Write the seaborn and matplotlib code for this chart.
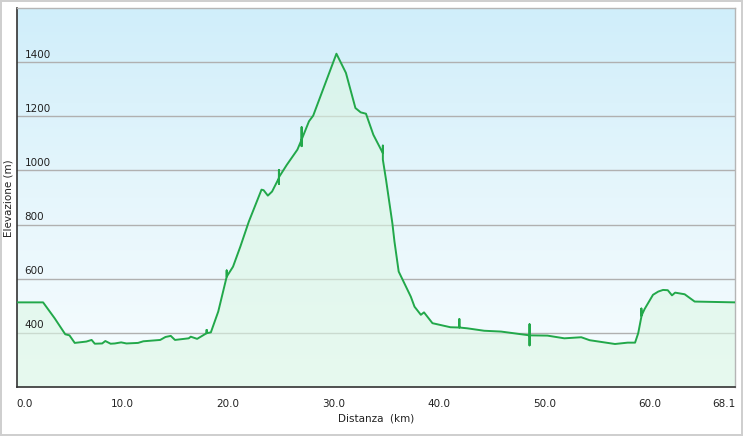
import numpy as np
import pandas as pd
import matplotlib
matplotlib.use("Agg")
import matplotlib.pyplot as plt
from matplotlib.colors import LinearSegmentedColormap
import seaborn as sns

# Profilo altimetrico: distanza (km) ed elevazione (m)
distanza = [0, 2.5, 3.6, 4.6, 5.0, 5.5, 6.6, 7.1, 7.4, 8.1,
            8.4, 8.9, 9.3, 9.9, 10.4, 11.5, 12.0, 13.6, 14.1, 14.6,
            15.0, 16.3, 16.5, 17.1, 18.0, 18.0, 18.0, 18.4, 19.1, 19.9,
            19.9, 19.9, 20.5, 21.2, 22.0, 23.2, 23.4, 23.8, 24.2, 24.85,
            24.85, 24.85, 24.85, 25.6, 26.6, 27.0, 27.0, 27.0, 27.0, 27.7,
            28.1, 30.3, 31.2, 32.1, 32.6, 33.1, 33.8, 34.7, 34.7, 34.7,
            35.0, 35.6, 35.8, 36.2, 37.35, 37.7, 38.3, 38.6, 39.4, 41.1,
            41.95, 41.95, 41.95, 42.7, 44.3, 45.9, 48.6, 48.6, 48.6, 48.6,
            50.3, 51.9, 53.5, 54.3, 56.7, 57.9, 58.6, 58.9, 59.2, 59.2,
            59.2, 59.5, 60.3, 60.8, 61.25, 61.7, 62.1, 62.4, 63.3, 64.25,
            68.1]
elevazione = [512, 512, 453, 394, 390, 362, 367, 373, 359, 360,
              369, 359, 360, 364, 360, 362, 368, 373, 384, 388,
              373, 379, 385, 377, 398, 410, 398, 401, 478, 607,
              630, 607, 644, 719, 811, 929, 927, 907, 922, 972,
              1002, 950, 975, 1021, 1077, 1114, 1160, 1090, 1114, 1182,
              1203, 1432, 1361, 1231, 1215, 1210, 1132, 1064, 1092, 1040,
              966, 805, 737, 626, 533, 496, 466, 475, 435, 420,
              419, 450, 419, 416, 407, 404, 390, 431, 353, 390,
              389, 379, 383, 372, 358, 363, 363, 398, 459, 489,
              462, 487, 540, 552, 558, 557, 538, 548, 542, 515,
              512]

x_ticks = [0, 10, 20, 30, 40, 50, 60, 68.1]
x_labels = ["0.0", "10.0", "20.0", "30.0", "40.0", "50.0", "60.0", "68.1"]
y_ticks = [400, 600, 800, 1000, 1200, 1400]
x_max = 68.1
y_min, y_max = 200, 1600

df = pd.DataFrame({"Distanza": distanza, "Elevazione": elevazione})

sns.set_style("white")
plt.rcParams["font.family"] = ["DejaVu Sans"]

fig = plt.figure(figsize=(7.43, 4.36), dpi=100)
fig.patch.set_facecolor("white")
fig.patch.set_edgecolor("#cfcfcf")
fig.patch.set_linewidth(1.5)
ax = fig.add_axes([16.7 / 743, 49.3 / 436, 718.6 / 743, 378.4 / 436])

# sfondo sfumato
cmap = LinearSegmentedColormap.from_list("cielo", ["#f8fdff", "#e6f6fc", "#d0eefa"])
grad = np.linspace(0, 1, 256).reshape(-1, 1)
ax.imshow(grad, cmap=cmap, origin="lower", aspect="auto",
          extent=(0, x_max, y_min, y_max), zorder=0)

for v in y_ticks:
    ax.axhline(v, color="#b0b0b0", lw=1, zorder=1)

ax.fill_between(df["Distanza"], df["Elevazione"], y_min,
                color="#dcf7e4", alpha=0.6, lw=0, zorder=2)
sns.lineplot(data=df, x="Distanza", y="Elevazione", sort=False, estimator=None,
             color="#22a84a", lw=1.4, ax=ax, zorder=3)

ax.set_xlim(0, x_max)
ax.set_ylim(y_min, y_max)

ax.set_xticks(x_ticks)
ax.set_xticklabels(x_labels, fontsize=7.5, color="#222222")
ax.tick_params(axis="x", direction="out", length=5, width=1, color="#333333", pad=4)
labs = ax.get_xticklabels()
labs[0].set_ha("left")
labs[-1].set_ha("right")

ax.set_yticks([])
for v in y_ticks:
    ax.annotate(str(v), xy=(0, v), xycoords=("axes fraction", "data"),
                xytext=(8, 2.5), textcoords="offset pixels",
                ha="left", va="bottom", fontsize=7.5, color="#222222", zorder=4)

ax.set_xlabel("Distanza  (km)", fontsize=7.5, color="#222222", labelpad=3)
fig.text(8.5 / 743, 1 - 198 / 436, "Elevazione (m)", rotation=90,
         ha="center", va="center", fontsize=7.5, color="#222222")
ax.set_ylabel("")

for side in ["left", "bottom"]:
    ax.spines[side].set_color("#333333")
    ax.spines[side].set_linewidth(1.2)
for side in ["top", "right"]:
    ax.spines[side].set_color("#b5b5b5")
    ax.spines[side].set_linewidth(1)

plt.savefig("out.png", dpi=100, facecolor=fig.get_facecolor(), edgecolor=fig.get_edgecolor())
plt.close()
